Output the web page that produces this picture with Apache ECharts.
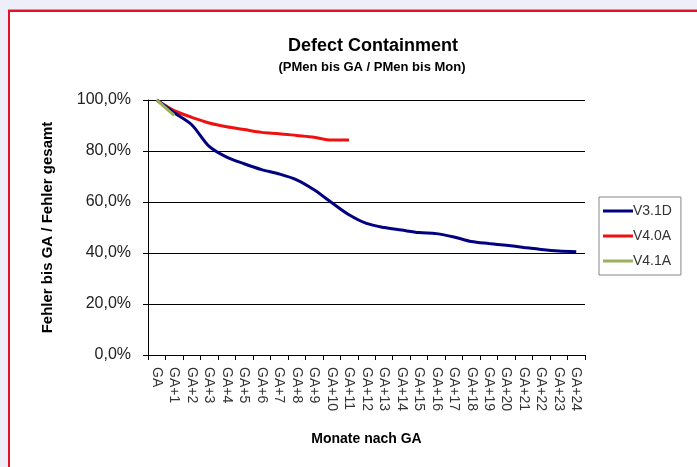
<!DOCTYPE html>
<html>
<head>
<meta charset="utf-8">
<script src="https://cdn.jsdelivr.net/npm/echarts@6/dist/echarts.min.js"></script>
<style>
html,body{margin:0;padding:0;background:#eeeef8;width:697px;height:467px;overflow:hidden;}
#frame{position:absolute;left:8px;top:10px;width:700px;height:470px;background:#fff;border-left:2px solid #e4112b;border-top:2px solid #e4112b;box-shadow:0 -1px 0 #b0a0b0;}
#chart{position:absolute;left:0;top:0;width:697px;height:467px;}
</style>
</head>
<body>
<div id="frame"></div>
<div id="chart"></div>
<script>
const categories = ['GA','GA+1','GA+2','GA+3','GA+4','GA+5','GA+6','GA+7','GA+8','GA+9','GA+10','GA+11','GA+12','GA+13','GA+14','GA+15','GA+16','GA+17','GA+18','GA+19','GA+20','GA+21','GA+22','GA+23','GA+24'];
const v31D = [100, 95, 90.3, 81.8, 77.6, 75, 72.7, 71, 68.7, 64.8, 59.8, 55, 51.6, 50, 49, 48, 47.6, 46.3, 44.5, 43.7, 43, 42.2, 41.4, 40.8, 40.5];
const v40A = [100, 95.8, 93.2, 91, 89.5, 88.4, 87.3, 86.8, 86.1, 85.4, 84.3, 84.3];
const v41A = [100, 94];
const yTicks = [0, 20, 40, 60, 80, 100];

const chart = echarts.init(document.getElementById('chart'));
const font = 'Liberation Sans, Arial, sans-serif';
chart.setOption({
  backgroundColor: 'transparent',
  animation: false,
  title: [
    {text: 'Defect Containment', left: 368, top: 32, textAlign: 'center',
     textStyle: {fontFamily: font, fontSize: 18, fontWeight: 'bold', color: '#000'}},
    {text: '(PMen bis GA / PMen bis Mon)', left: 367, top: 56, textAlign: 'center',
     textStyle: {fontFamily: font, fontSize: 13, fontWeight: 'bold', color: '#000'}}
  ],
  legend: {
    orient: 'vertical', left: 599, top: 197, itemGap: 11,
    itemWidth: 30, itemHeight: 3,
    padding: [7, 9, 7, 4],
    borderColor: '#888', borderWidth: 1,
    icon: 'rect',
    textStyle: {fontFamily: font, fontSize: 14, color: '#333', padding: [0, 0, 0, -5]},
    data: ['V3.1D', 'V4.0A', 'V4.1A']
  },
  grid: {left: 148, right: 112, top: 100, bottom: 112},
  xAxis: {
    type: 'category', data: categories, boundaryGap: true,
    name: 'Monate nach GA', nameLocation: 'middle', nameGap: 77,
    nameTextStyle: {fontFamily: font, fontSize: 14, fontWeight: 'bold', color: '#000'},
    axisLine: {lineStyle: {color: '#000', width: 1}},
    axisTick: {show: true, length: 5, alignWithLabel: false, interval: 0, lineStyle: {color: '#000'}},
    axisLabel: {rotate: -90, interval: 0, margin: 12, fontFamily: font, fontSize: 14, color: '#333'}
  },
  yAxis: {
    type: 'value', min: 0, max: 100, interval: 20,
    name: 'Fehler bis GA / Fehler gesamt', nameLocation: 'middle', nameGap: 93,
    nameTextStyle: {fontFamily: font, fontSize: 15, fontWeight: 'bold', color: '#000'},
    axisLine: {show: true, lineStyle: {color: '#000', width: 1}},
    axisTick: {show: true, length: 5, inside: false, lineStyle: {color: '#000'}},
    axisLabel: {margin: 17, fontFamily: font, fontSize: 16, color: '#222',
      formatter: v => yTicks.includes(v) ? v.toFixed(1).replace('.', ',') + '%' : ''},
    splitLine: {show: true, lineStyle: {color: '#000', width: 1}}
  },
  series: [
    {name: 'V3.1D', type: 'line', data: v31D, smooth: 0.3, symbol: 'none',
     lineStyle: {color: '#000080', width: 3}, itemStyle: {color: '#000080'}, z: 3},
    {name: 'V4.0A', type: 'line', data: v40A, smooth: 0.3, symbol: 'none',
     lineStyle: {color: '#ee1111', width: 3}, itemStyle: {color: '#ee1111'}, z: 2},
    {name: 'V4.1A', type: 'line', data: v41A, smooth: 0.3, symbol: 'none',
     lineStyle: {color: '#9bb05a', width: 3}, itemStyle: {color: '#9bb05a'}, z: 4}
  ]
});
</script>
</body>
</html>
